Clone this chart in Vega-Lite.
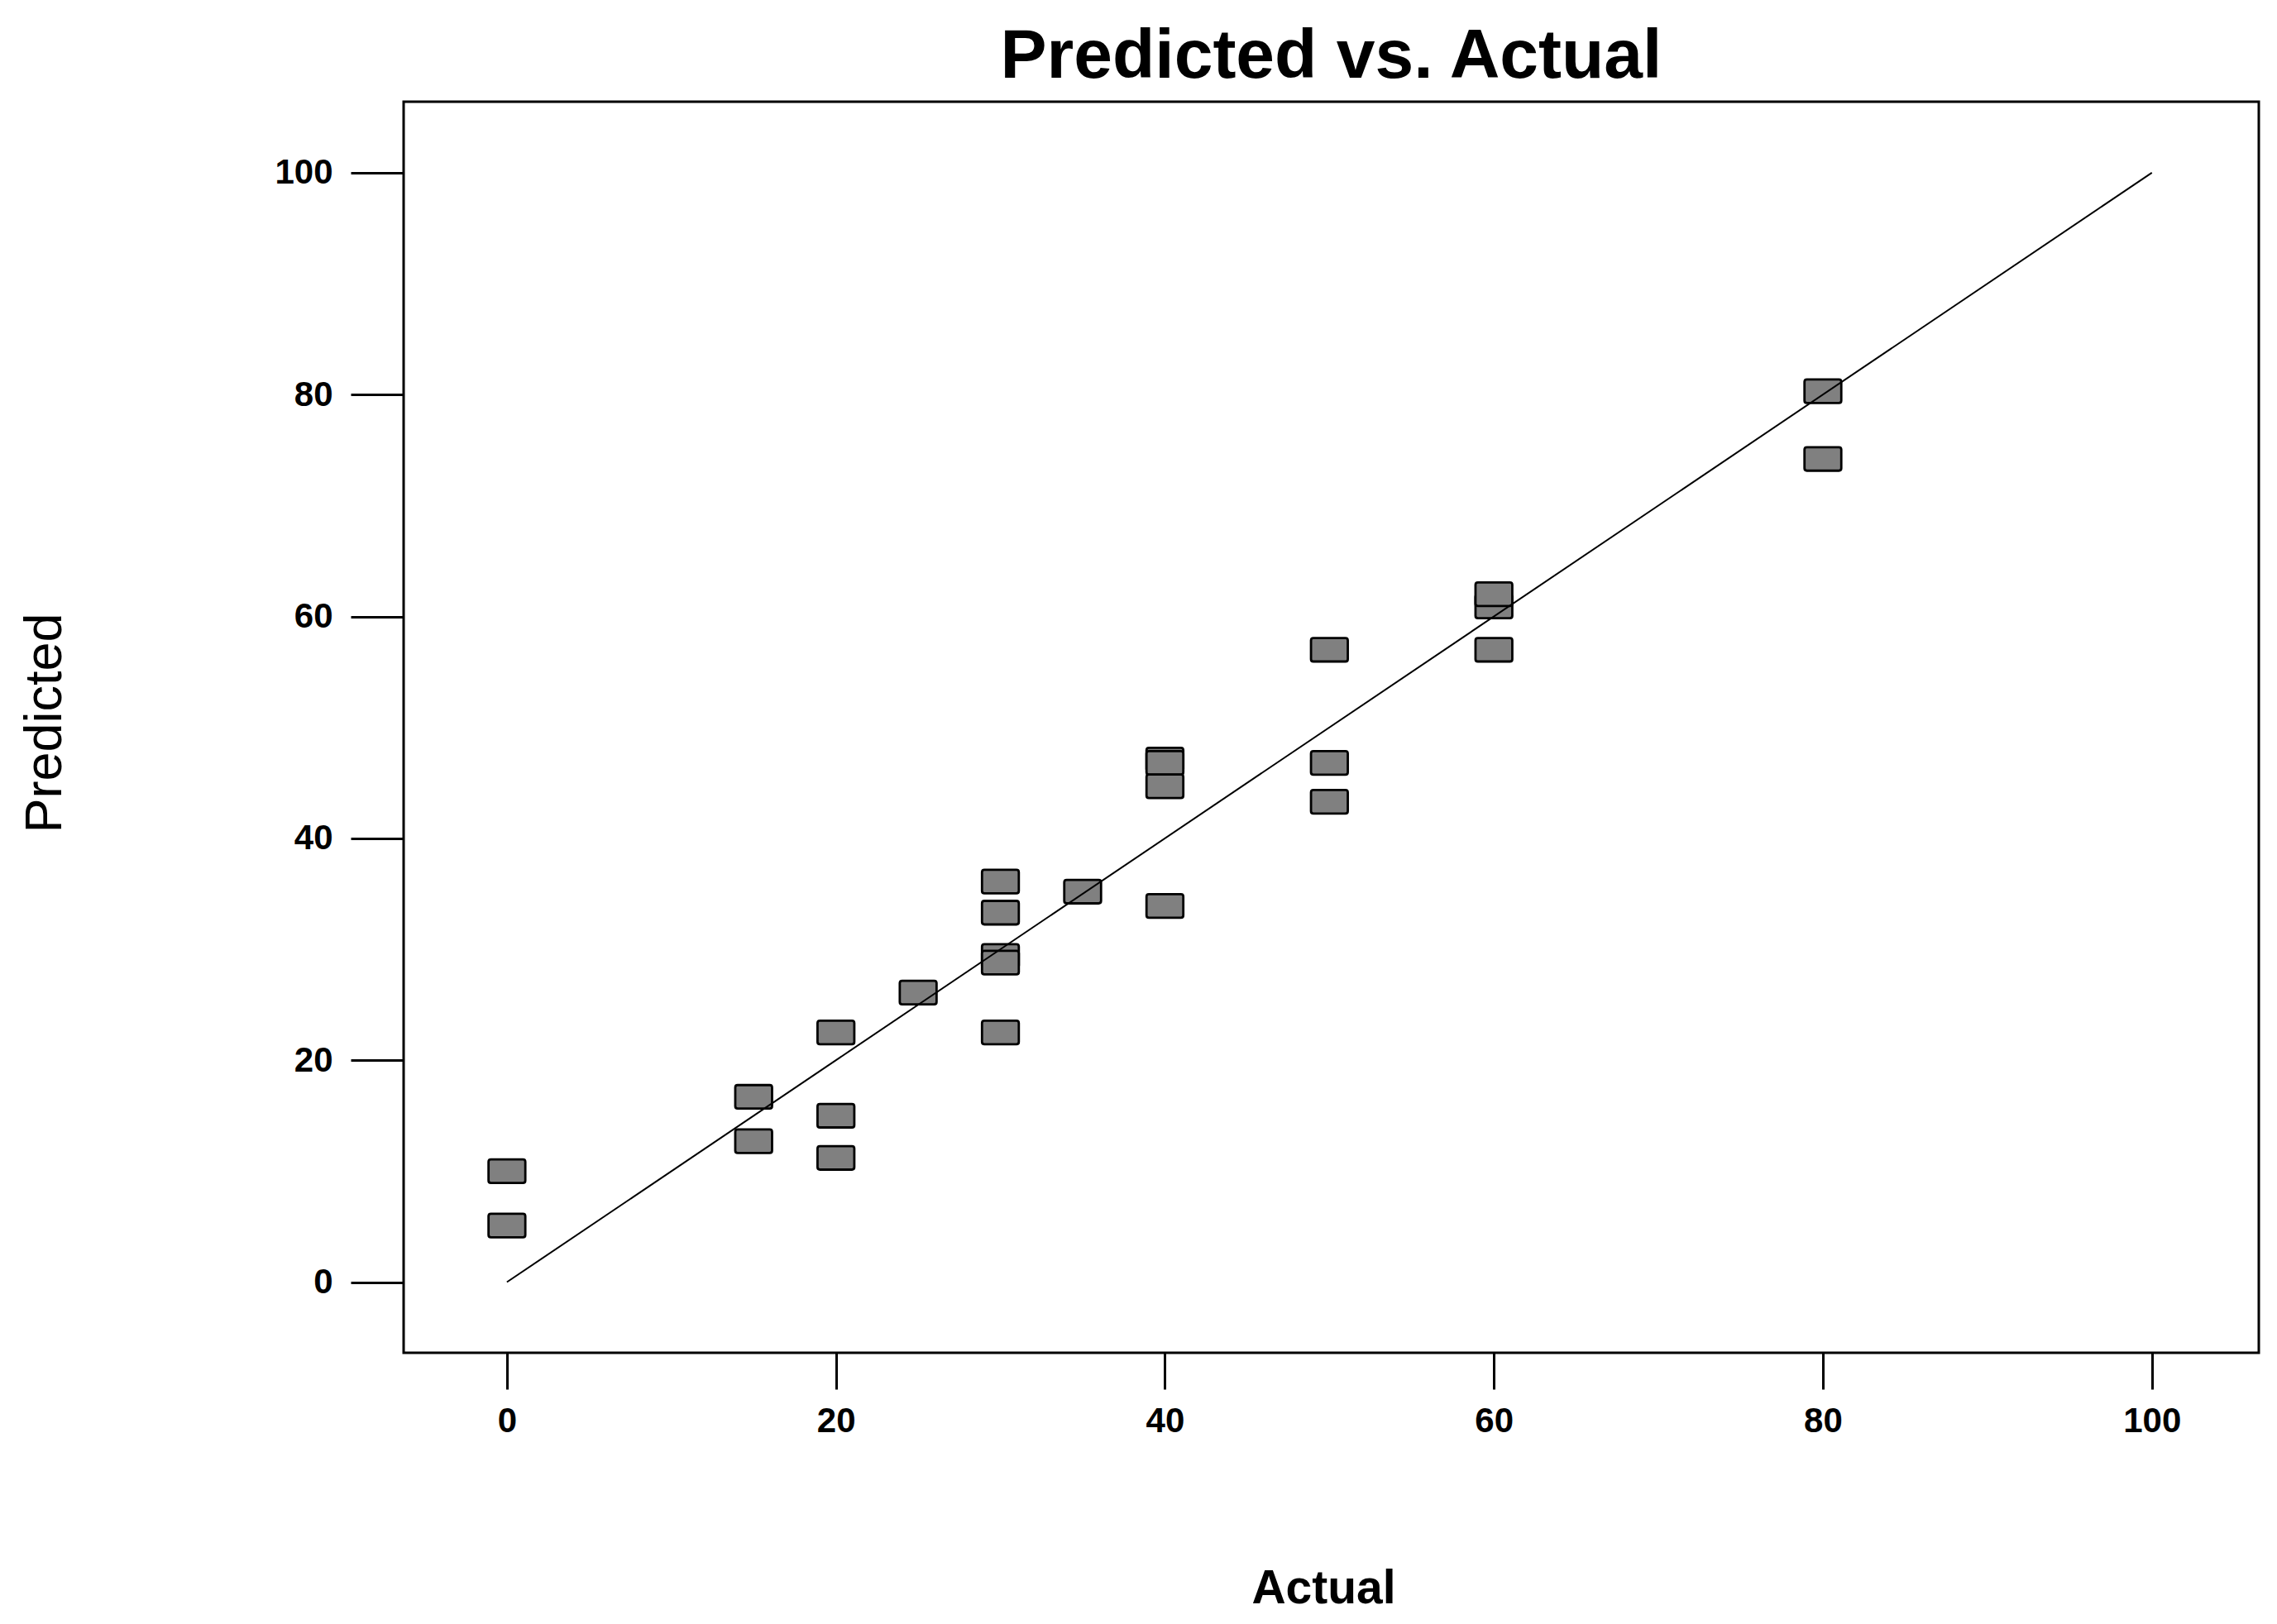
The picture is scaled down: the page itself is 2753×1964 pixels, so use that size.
{
  "$schema": "https://vega.github.io/schema/vega-lite/v6.json",
  "autosize": {"type": "none"},
  "padding": {"left": 488, "top": 123, "right": 22, "bottom": 328},
  "width": 2243,
  "height": 1513,
  "background": "white",
  "config": {
    "view": {"stroke": "black", "strokeWidth": 3},
    "axis": {
      "domain": false,
      "grid": false,
      "tickColor": "black",
      "tickWidth": 3,
      "labelFont": "Liberation Sans",
      "labelFontWeight": "bold",
      "labelFontSize": 42,
      "labelColor": "black",
      "labelFlush": false,
      "labelOverlap": false,
      "titleFont": "Liberation Sans",
      "titleColor": "black"
    }
  },
  "title": {
    "text": "Predicted vs. Actual",
    "font": "Liberation Sans",
    "fontWeight": "bold",
    "fontSize": 84,
    "color": "black",
    "anchor": "middle",
    "frame": "group",
    "baseline": "alphabetic",
    "offset": 34,
    "dy": 89
  },
  "datasets": {
    "points": [
      {"actual": 0, "predicted": 10.0},
      {"actual": 0, "predicted": 5.1},
      {"actual": 15, "predicted": 16.7},
      {"actual": 15, "predicted": 12.7},
      {"actual": 20, "predicted": 22.5},
      {"actual": 20, "predicted": 15.0},
      {"actual": 20, "predicted": 11.2},
      {"actual": 25, "predicted": 26.1},
      {"actual": 30, "predicted": 36.1},
      {"actual": 30, "predicted": 33.3},
      {"actual": 30, "predicted": 29.4},
      {"actual": 30, "predicted": 28.8},
      {"actual": 30, "predicted": 22.5},
      {"actual": 35, "predicted": 35.2},
      {"actual": 40, "predicted": 47.1},
      {"actual": 40, "predicted": 46.8},
      {"actual": 40, "predicted": 44.7},
      {"actual": 40, "predicted": 33.9},
      {"actual": 50, "predicted": 57.0},
      {"actual": 50, "predicted": 46.8},
      {"actual": 50, "predicted": 43.3},
      {"actual": 60, "predicted": 60.9},
      {"actual": 60, "predicted": 62.0},
      {"actual": 60, "predicted": 57.0},
      {"actual": 80, "predicted": 80.3},
      {"actual": 80, "predicted": 74.2}
    ],
    "diag": [
      {"actual": 0, "predicted": 0},
      {"actual": 100, "predicted": 100}
    ]
  },
  "layer": [
    {
      "data": {"name": "points"},
      "mark": {
        "type": "point",
        "shape": "M-0.87,-0.64H0.87Q1,-0.64 1,-0.51V0.51Q1,0.64 0.87,0.64H-0.87Q-1,0.64 -1,0.51V-0.51Q-1,-0.64 -0.87,-0.64Z",
        "size": 1980,
        "filled": true,
        "fill": "#808080",
        "stroke": "black",
        "strokeWidth": 2.8,
        "opacity": 1
      },
      "encoding": {
        "x": {
          "field": "actual",
          "type": "quantitative",
          "scale": {"domain": [-6.28, 106.5], "nice": false, "zero": false},
          "axis": {
            "values": [0, 20, 40, 60, 80, 100],
            "tickSize": 44,
            "labelPadding": 18,
            "title": "Actual",
            "titleFontWeight": "bold",
            "titleFontSize": 57,
            "titleX": 1112,
            "titleY": 302,
            "titleBaseline": "alphabetic",
            "titleAlign": "center"
          }
        },
        "y": {
          "field": "predicted",
          "type": "quantitative",
          "scale": {"domain": [-6.37, 106.4], "nice": false, "zero": false},
          "axis": {
            "values": [0, 20, 40, 60, 80, 100],
            "tickSize": 64,
            "labelPadding": 22,
            "title": "Predicted",
            "titleFontWeight": "normal",
            "titleFontSize": 63,
            "titleAngle": -90,
            "titleX": -415,
            "titleY": 751,
            "titleBaseline": "alphabetic",
            "titleAlign": "center"
          }
        }
      }
    },
    {
      "data": {"name": "diag"},
      "mark": {"type": "line", "color": "black", "strokeWidth": 2},
      "encoding": {
        "x": {"field": "actual", "type": "quantitative"},
        "y": {"field": "predicted", "type": "quantitative"}
      }
    }
  ]
}
